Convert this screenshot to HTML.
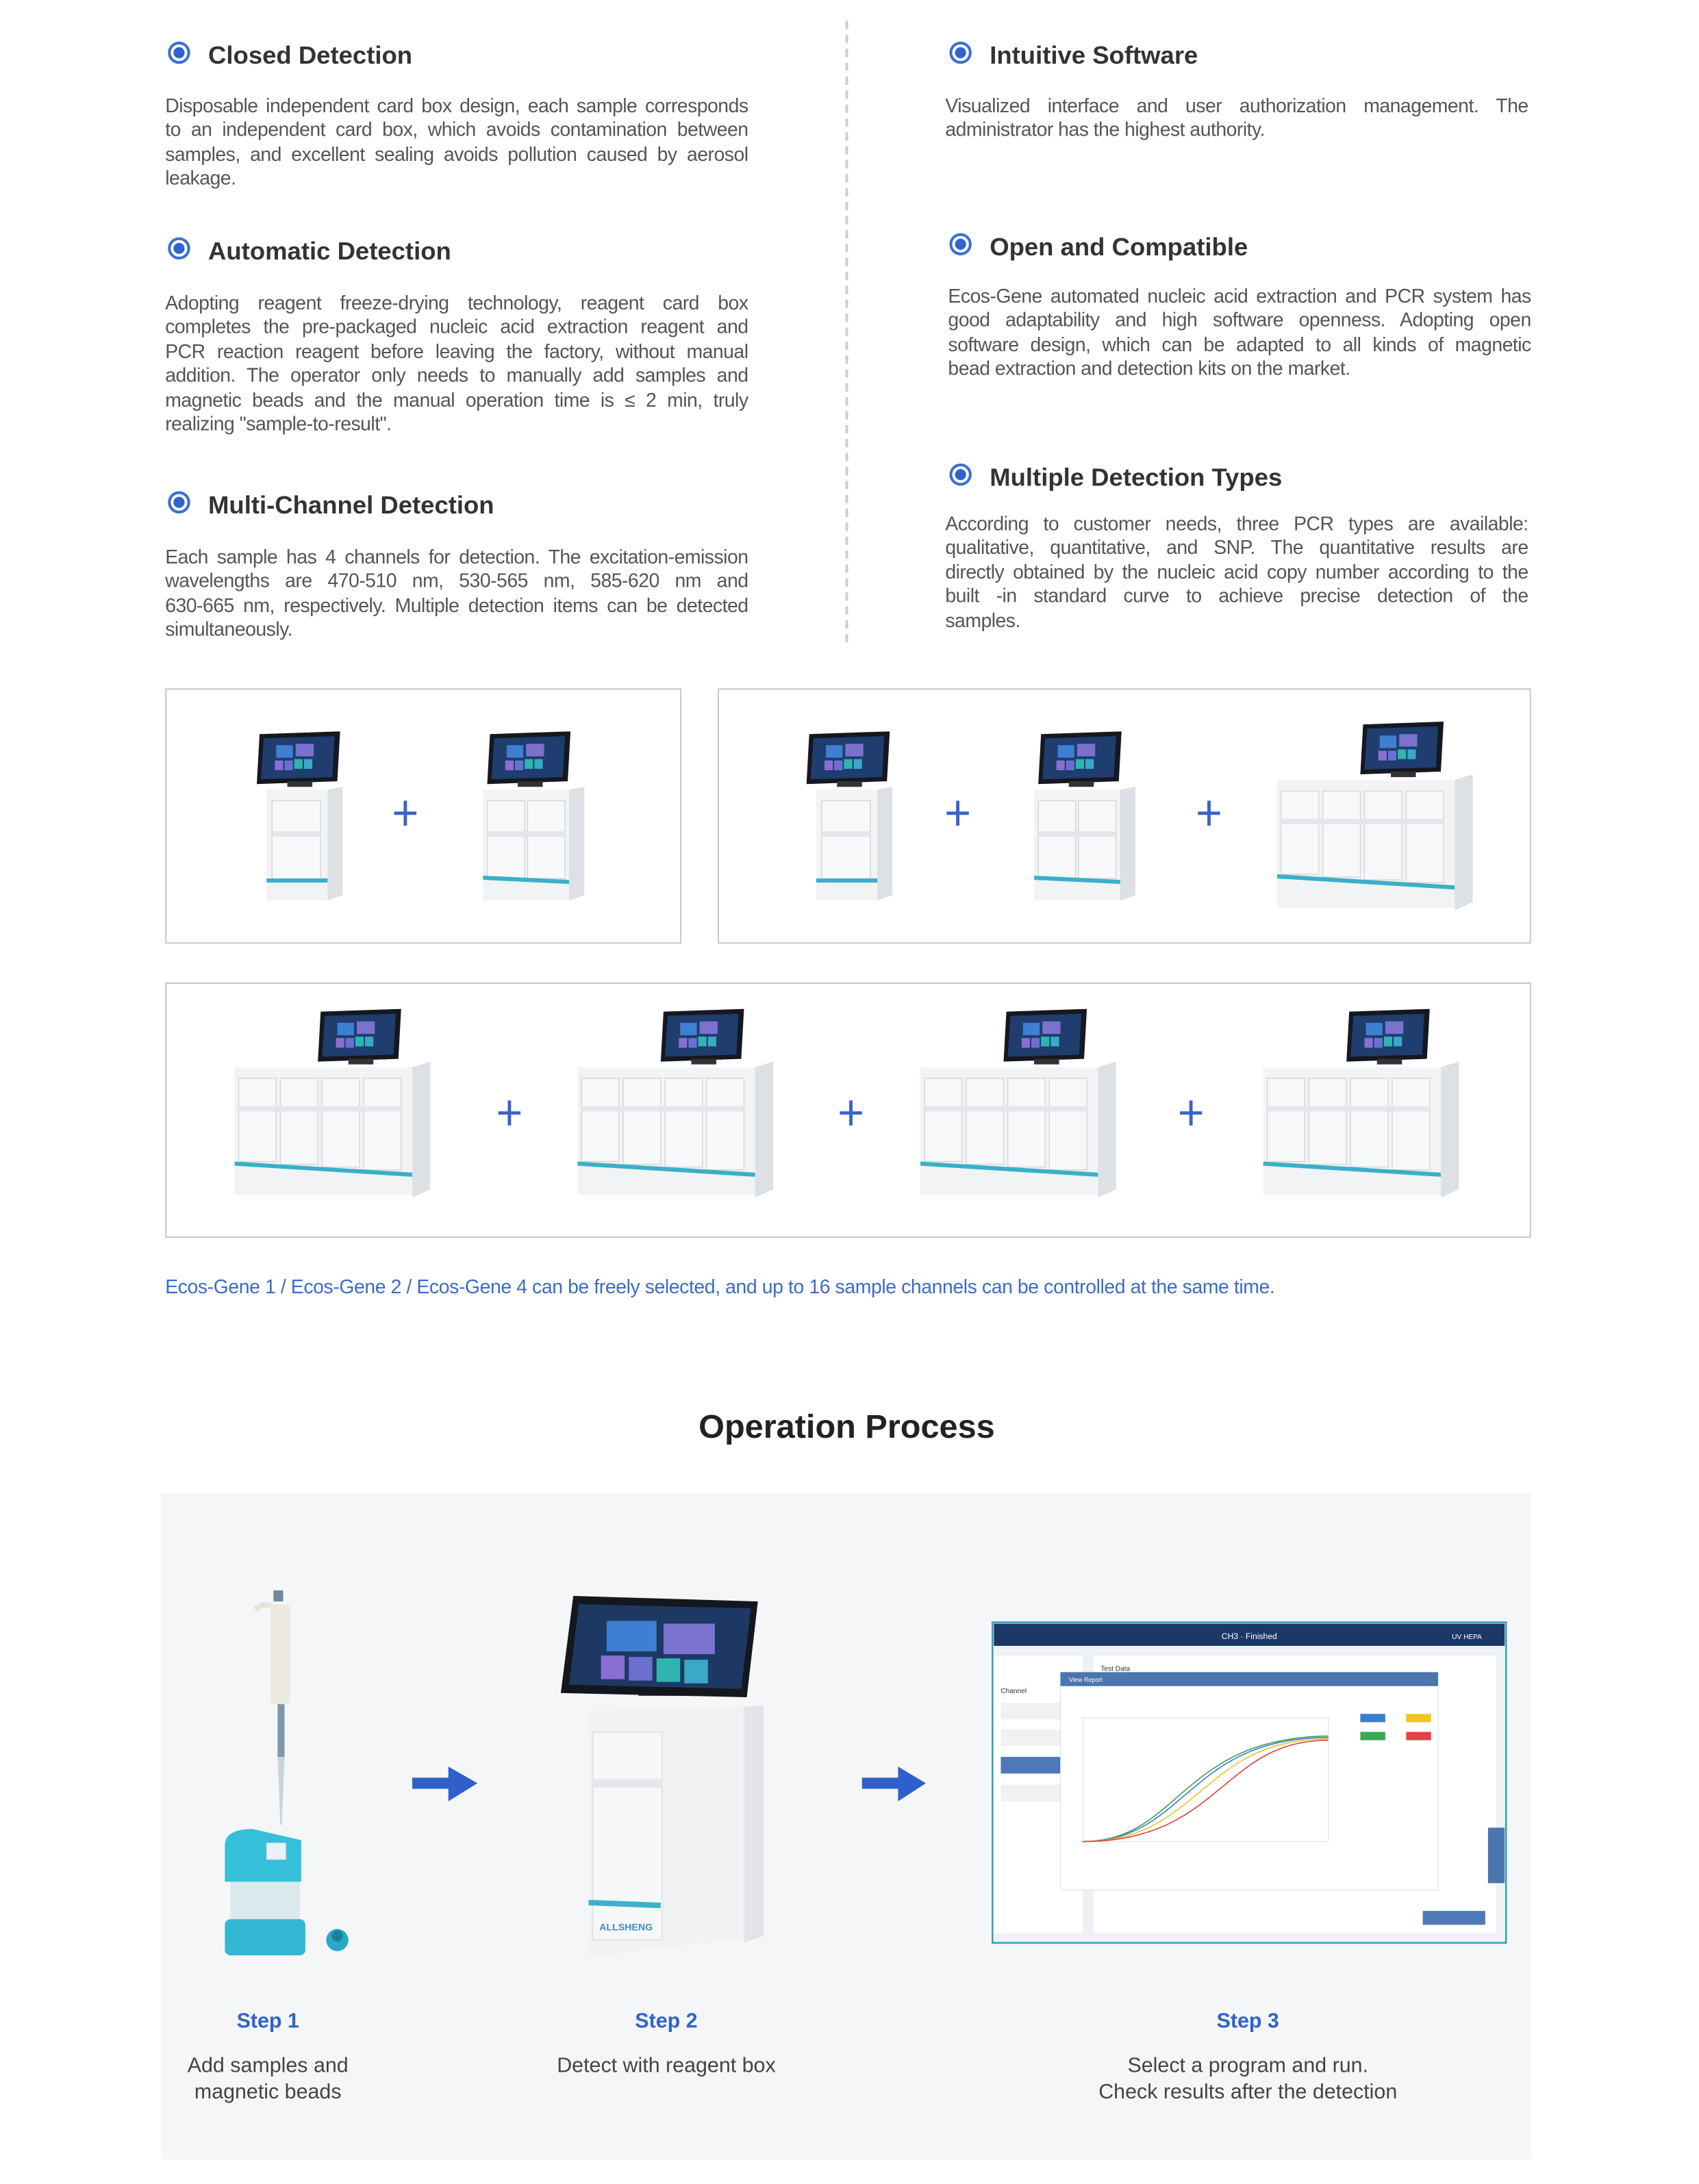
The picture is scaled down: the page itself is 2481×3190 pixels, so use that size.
<!DOCTYPE html>
<html><head><meta charset="utf-8">
<style>
html,body{margin:0;padding:0;background:#fff;}
body{width:2481px;height:3190px;overflow:hidden;position:relative;}
#w{position:absolute;left:0;top:0;width:1224px;height:1574px;transform:scale(2.02696);transform-origin:0 0;font-family:"Liberation Sans",Arial,sans-serif;}
.t{position:absolute;font-size:18px;font-weight:bold;color:#333;white-space:nowrap;line-height:22px;}
.b{position:absolute;width:16px;height:16px;border:2px solid #3a6fd0;border-radius:50%;box-sizing:border-box;}
.b:after{content:"";position:absolute;left:2px;top:2px;width:8px;height:8px;border-radius:50%;background:#2f63cf;}
.p{position:absolute;font-size:14px;color:#555;line-height:17.4px;letter-spacing:-0.25px;}
.p div{text-align:justify;text-align-last:justify;white-space:nowrap;height:17.4px;}
.p div.l{text-align-last:left;}
.box{position:absolute;border:1.3px solid #c8c8c8;box-sizing:border-box;}
svg{position:absolute;left:0;top:0;}
.c{position:absolute;text-align:center;white-space:nowrap;}
</style></head><body><div id="w">

<div style="position:absolute;left:609px;top:15px;height:448px;border-left:2px dashed #cfcfcf;"></div>

<div class="b" style="left:121px;top:30px"></div><div class="t" style="left:150px;top:29px">Closed Detection</div>
<div class="p" style="left:119px;top:68px;width:420px">
<div>Disposable independent card box design, each sample corresponds</div>
<div>to an independent card box, which avoids contamination between</div>
<div>samples, and excellent sealing avoids pollution caused by aerosol</div>
<div class="l">leakage.</div></div>

<div class="b" style="left:121px;top:171px"></div><div class="t" style="left:150px;top:170px">Automatic Detection</div>
<div class="p" style="left:119px;top:210px;width:420px">
<div>Adopting reagent freeze-drying technology, reagent card box</div>
<div>completes the pre-packaged nucleic acid extraction reagent and</div>
<div>PCR reaction reagent before leaving the factory, without manual</div>
<div>addition. The operator only needs to manually add samples and</div>
<div>magnetic beads and the manual operation time is ≤ 2 min, truly</div>
<div class="l">realizing "sample-to-result".</div></div>

<div class="b" style="left:121px;top:354px"></div><div class="t" style="left:150px;top:353px">Multi-Channel Detection</div>
<div class="p" style="left:119px;top:393px;width:420px">
<div>Each sample has 4 channels for detection. The excitation-emission</div>
<div>wavelengths are 470-510 nm, 530-565 nm, 585-620 nm and</div>
<div>630-665 nm, respectively. Multiple detection items can be detected</div>
<div class="l">simultaneously.</div></div>

<div class="b" style="left:684px;top:30px"></div><div class="t" style="left:713px;top:29px">Intuitive Software</div>
<div class="p" style="left:681px;top:68px;width:420px">
<div>Visualized interface and user authorization management. The</div>
<div class="l">administrator has the highest authority.</div></div>

<div class="b" style="left:684px;top:168px"></div><div class="t" style="left:713px;top:167px">Open and Compatible</div>
<div class="p" style="left:683px;top:205px;width:420px">
<div>Ecos-Gene automated nucleic acid extraction and PCR system has</div>
<div>good adaptability and high software openness. Adopting open</div>
<div>software design, which can be adapted to all kinds of magnetic</div>
<div class="l">bead extraction and detection kits on the market.</div></div>

<div class="b" style="left:684px;top:334px"></div><div class="t" style="left:713px;top:333px">Multiple Detection Types</div>
<div class="p" style="left:681px;top:369px;width:420px">
<div>According to customer needs, three PCR types are available:</div>
<div>qualitative, quantitative, and SNP. The quantitative results are</div>
<div>directly obtained by the nucleic acid copy number according to the</div>
<div>built -in standard curve to achieve precise detection of the</div>
<div class="l">samples.</div></div>

<div class="box" style="left:119px;top:496px;width:372px;height:184px"></div>
<div class="box" style="left:517px;top:496px;width:586px;height:184px"></div>
<div class="box" style="left:119px;top:708px;width:984px;height:184px"></div>

<div class="c" style="left:119px;top:919px;font-size:14px;color:#3d6cc4;letter-spacing:-0.2px">Ecos-Gene 1 / Ecos-Gene 2 / Ecos-Gene 4 can be freely selected, and up to 16 sample channels can be controlled at the same time.</div>

<div class="c" style="left:0;width:1220px;top:1015px;font-size:24px;font-weight:bold;color:#222">Operation Process</div>

<div style="position:absolute;left:116px;top:1076px;width:987px;height:480px;background:#f5f6f8"></div>

<svg width="1224" height="1574" viewBox="0 0 1224 1574">
<defs>
<g id="tab">
 <polygon points="2,2 60,0 58,36 0,38" fill="#15181f"/>
 <polygon points="5,5 56,3.5 54.5,33 3,34.5" fill="#1f3d6e"/>
 <rect x="14" y="10" width="12" height="9" fill="#3d7fd0"/><rect x="28" y="9" width="13" height="9" fill="#7a72cc"/>
 <rect x="13" y="21" width="6" height="7" fill="#8a6fd0"/><rect x="20" y="21" width="6" height="7" fill="#6a70d0"/>
 <rect x="27" y="20" width="6" height="7" fill="#2fb5b0"/><rect x="34" y="20" width="6" height="7" fill="#3aa8c8"/>
 <rect x="22" y="36" width="18" height="4" fill="#333"/>
</g>
<symbol id="s1" viewBox="0 0 62 122">
 <rect x="19" y="39" width="24" height="5" fill="#fafafa"/>
 <rect x="7" y="42" width="44" height="80" fill="#f2f3f5"/>
 <polygon points="51,42 62,40 62,118 51,122" fill="#dde0e4"/>
 <rect x="11" y="50" width="35" height="58" fill="#f7f8f9" stroke="#d4d6da" stroke-width="0.7"/>
 <rect x="11" y="72" width="35" height="4" fill="#e4e6e9"/>
 <rect x="7" y="106" width="44" height="3" fill="#39b0c8"/>
 <use href="#tab"/>
</symbol>
<symbol id="s2" viewBox="0 0 80 122">
 <rect x="3" y="42" width="62" height="80" fill="#f2f3f5"/>
 <polygon points="65,42 76,40 76,118 65,122" fill="#dde0e4"/>
 <rect x="6" y="50" width="27" height="56" fill="#f7f8f9" stroke="#d4d6da" stroke-width="0.7"/>
 <rect x="35" y="50" width="27" height="56" fill="#f7f8f9" stroke="#d4d6da" stroke-width="0.7"/>
 <rect x="6" y="72" width="56" height="4" fill="#e4e6e9"/>
 <polygon points="3,104 65,107 65,110 3,107" fill="#39b0c8"/>
 <g transform="translate(6,0)"><use href="#tab"/></g>
</symbol>
<symbol id="s4" viewBox="0 0 142 137">
 <rect x="0" y="42" width="128" height="92" fill="#f2f3f5"/>
 <polygon points="128,42 141,38 141,130 128,136" fill="#dde0e4"/>
 <rect x="3" y="50" width="27" height="60" fill="#f7f8f9" stroke="#d4d6da" stroke-width="0.7"/>
 <rect x="33" y="50" width="27" height="62" fill="#f7f8f9" stroke="#d4d6da" stroke-width="0.7"/>
 <rect x="63" y="50" width="27" height="64" fill="#f7f8f9" stroke="#d4d6da" stroke-width="0.7"/>
 <rect x="93" y="50" width="27" height="66" fill="#f7f8f9" stroke="#d4d6da" stroke-width="0.7"/>
 <rect x="3" y="70" width="117" height="4" fill="#e4e6e9"/>
 <polygon points="0,110 128,118 128,121 0,113" fill="#39b0c8"/>
 <g transform="translate(60,0)"><use href="#tab"/></g>
</symbol>
<g id="plus"><path d="M-8,0H8M0,-9V9" stroke="#3a63c8" stroke-width="2.4"/></g>
</defs>

<use href="#s1" x="185" y="527" width="62" height="122"/>
<use href="#plus" x="292" y="586"/>
<use href="#s2" x="345" y="527" width="80" height="122"/>

<use href="#s1" x="581" y="527" width="62" height="122"/>
<use href="#plus" x="690" y="586"/>
<use href="#s2" x="742" y="527" width="80" height="122"/>
<use href="#plus" x="871" y="586"/>
<use href="#s4" x="920" y="520" width="142" height="137"/>

<use href="#s4" x="169" y="727" width="142" height="137"/>
<use href="#plus" x="367" y="802"/>
<use href="#s4" x="416" y="727" width="142" height="137"/>
<use href="#plus" x="613" y="802"/>
<use href="#s4" x="663" y="727" width="142" height="137"/>
<use href="#plus" x="858" y="802"/>
<use href="#s4" x="910" y="727" width="142" height="137"/>

<!-- step1 pipette -->
<rect x="197" y="1146" width="7" height="8" fill="#6f8aa3"/>
<path d="M184,1160 q6,-6 12,-2" stroke="#e6e3da" stroke-width="4" fill="none"/>
<rect x="195" y="1156" width="14" height="72" rx="3" fill="#ece9e0"/>
<rect x="200" y="1228" width="5" height="38" fill="#7f97ad"/>
<polygon points="200,1266 205,1266 203,1315 202,1315" fill="#c8d4d8"/>
<!-- tube -->
<path d="M162,1330 q0,-12 20,-12 l35,8 v30 h-55z" fill="#36bfd8"/>
<rect x="166" y="1356" width="50" height="30" fill="#dbe8ec"/>
<rect x="162" y="1383" width="58" height="26" rx="4" fill="#33b7d3"/>
<rect x="192" y="1328" width="14" height="12" fill="#e9f3f5" stroke="#bcd" stroke-width="0.6"/>
<circle cx="243" cy="1398" r="8" fill="#2aa9c7"/><circle cx="243" cy="1395" r="4" fill="#1a7f98"/>
<!-- arrows -->
<polygon points="297,1281 323,1281 323,1273 344,1285 323,1298 323,1289 297,1289" fill="#2f5fcc"/>
<polygon points="621,1281 647,1281 647,1273 667,1285 647,1298 647,1289 621,1289" fill="#2f5fcc"/>
<!-- step2 device -->
<polygon points="425,1233 550,1229 550,1395 425,1410" fill="#f1f2f4"/>
<polygon points="536,1230 550,1229 550,1395 536,1400" fill="#e2e4e8"/>
<rect x="427" y="1248" width="50" height="150" fill="#f6f7f8" stroke="#dcdee2" stroke-width="0.7"/>
<rect x="427" y="1282" width="50" height="6" fill="#e6e7ea"/>
<polygon points="424,1369 476,1371 476,1375 424,1373" fill="#3ab3ca"/>
<text x="451" y="1391" font-size="7" fill="#3d8fc0" text-anchor="middle" font-weight="bold">ALLSHENG</text>
<rect x="460" y="1212" width="32" height="10" fill="#333"/>
<polygon points="413,1150 546,1154 538,1223 404,1220" fill="#14171d"/>
<polygon points="417,1156 541,1159 534,1217 410,1214" fill="#1e3864"/>
<rect x="437" y="1168" width="36" height="22" fill="#3d7fd0"/><rect x="478" y="1170" width="37" height="22" fill="#7a72cc"/>
<rect x="433" y="1193" width="17" height="17" fill="#8a6fd0"/><rect x="453" y="1194" width="17" height="17" fill="#6a70d0"/>
<rect x="473" y="1195" width="17" height="17" fill="#2fb5b0"/><rect x="493" y="1196" width="17" height="17" fill="#3aa8c8"/>
<!-- step3 screen -->
<rect x="715" y="1169" width="370" height="231" fill="#eef2f6" stroke="#2f9cb8" stroke-width="1.2"/>
<rect x="716" y="1170" width="368" height="16" fill="#1c3866"/>
<text x="900" y="1181" font-size="6" fill="#fff" text-anchor="middle">CH3 · Finished</text>
<text x="1046" y="1181" font-size="5" fill="#fff">UV  HEPA</text>
<rect x="716" y="1193" width="64" height="200" fill="#fff"/>
<rect x="788" y="1193" width="290" height="200" fill="#fff"/>
<text x="793" y="1204" font-size="5" fill="#333">Test Data</text>
<text x="721" y="1220" font-size="5" fill="#333">Channel</text>
<rect x="721" y="1227" width="45" height="12" fill="#f0f1f3"/><rect x="721" y="1246" width="45" height="12" fill="#f0f1f3"/>
<rect x="721" y="1266" width="45" height="12" fill="#4d79b6"/><rect x="721" y="1286" width="45" height="12" fill="#f0f1f3"/>
<rect x="1025" y="1377" width="45" height="10" fill="#4d79b6"/>
<rect x="764" y="1205" width="272" height="157" fill="#fff" stroke="#ddd" stroke-width="0.5"/>
<rect x="764" y="1205" width="272" height="10" fill="#4b75ad"/>
<text x="770" y="1212" font-size="4.5" fill="#fff">View Report</text>
<rect x="780" y="1238" width="177" height="89" fill="none" stroke="#ddd" stroke-width="0.5"/>
<path d="M780,1327 C850,1327 850,1252 957,1251" stroke="#3d9e5a" fill="none" stroke-width="0.8"/>
<path d="M780,1327 C855,1327 855,1252 957,1252" stroke="#3a7fcf" fill="none" stroke-width="0.8"/>
<path d="M780,1327 C865,1327 865,1253 957,1253" stroke="#e8c42a" fill="none" stroke-width="0.8"/>
<path d="M780,1327 C880,1327 880,1254 957,1254" stroke="#e24040" fill="none" stroke-width="0.8"/>
<rect x="980" y="1235" width="18" height="6" fill="#3a7fcf"/><rect x="1013" y="1235" width="18" height="6" fill="#f0c71e"/>
<rect x="980" y="1248" width="18" height="6" fill="#3aaa52"/><rect x="1013" y="1248" width="18" height="6" fill="#e24343"/>
<rect x="1072" y="1317" width="12" height="40" fill="#4b75ad"/>
</svg>

<div class="c" style="left:93px;width:200px;top:1448px;font-size:15px;font-weight:bold;color:#2f63c8">Step 1</div>
<div class="c" style="left:93px;width:200px;top:1479px;font-size:15px;color:#444;line-height:19px">Add samples and<br>magnetic beads</div>
<div class="c" style="left:380px;width:200px;top:1448px;font-size:15px;font-weight:bold;color:#2f63c8">Step 2</div>
<div class="c" style="left:350px;width:260px;top:1479px;font-size:15px;color:#444;line-height:19px">Detect with reagent box</div>
<div class="c" style="left:799px;width:200px;top:1448px;font-size:15px;font-weight:bold;color:#2f63c8">Step 3</div>
<div class="c" style="left:740px;width:318px;top:1479px;font-size:15px;color:#444;line-height:19px">Select a program and run.<br>Check results after the detection</div>

</div></body></html>
